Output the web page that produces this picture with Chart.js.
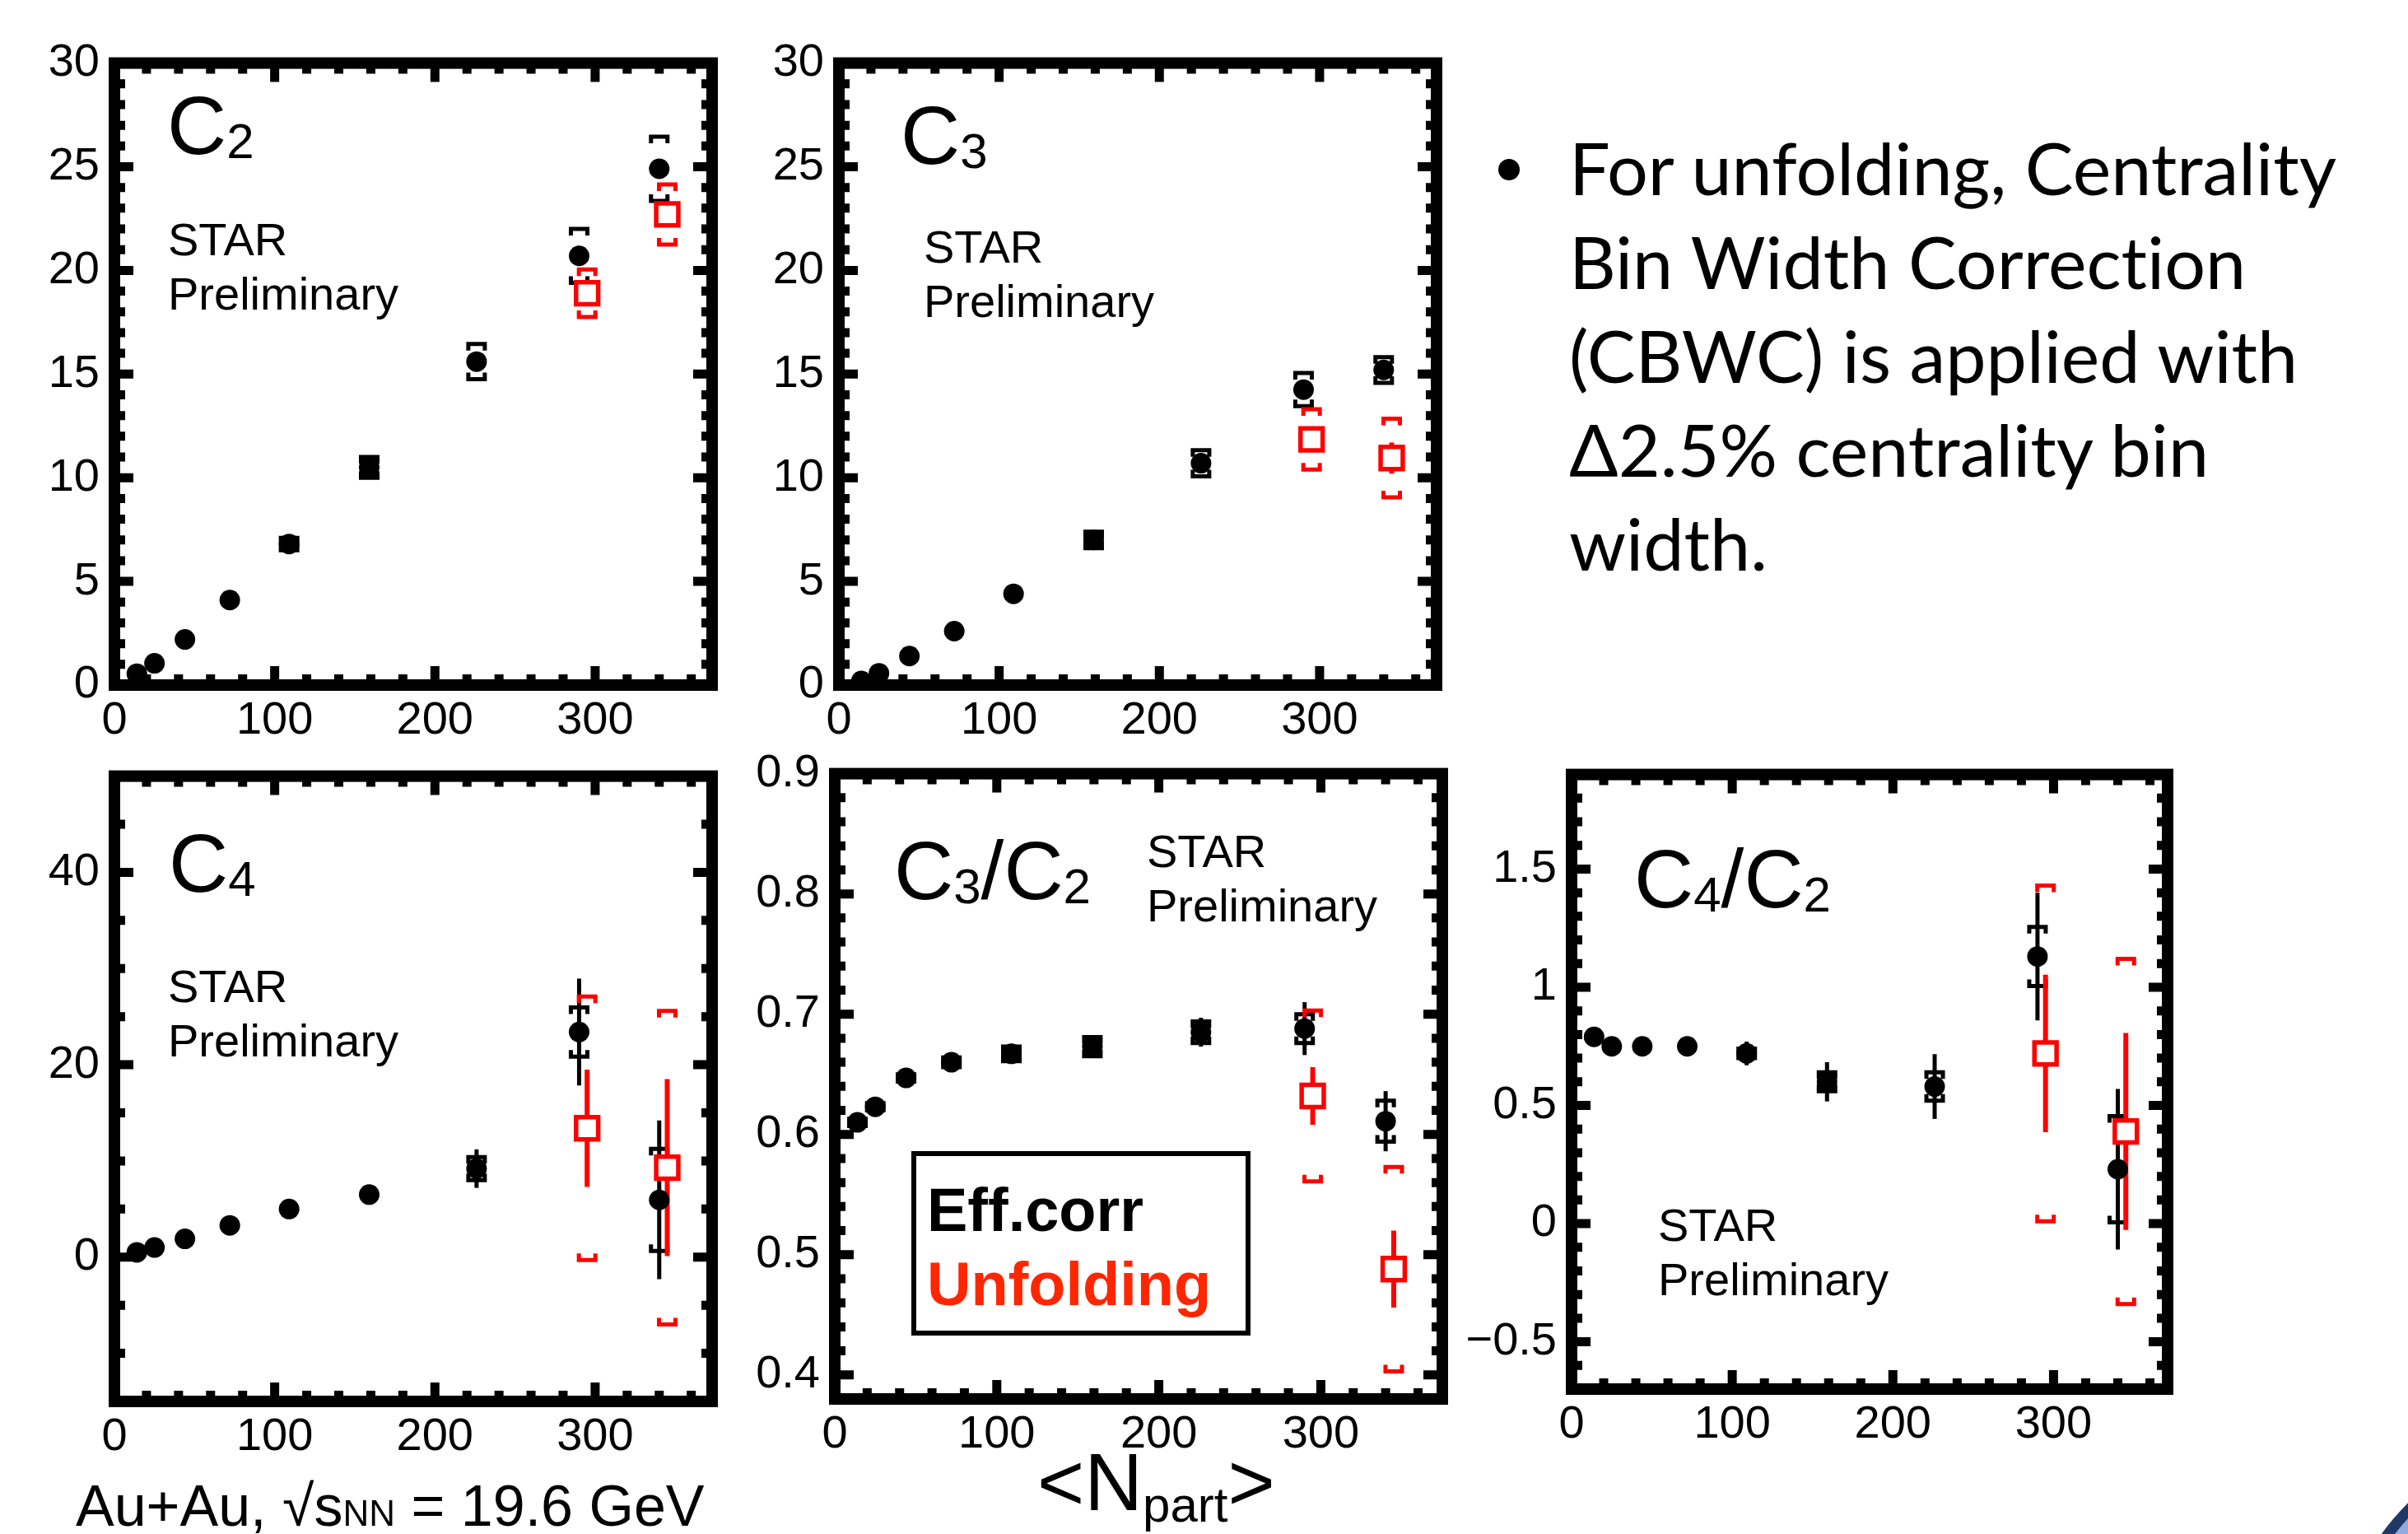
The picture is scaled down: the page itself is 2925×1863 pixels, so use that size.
<!DOCTYPE html>
<html>
<head>
<meta charset="utf-8">
<script src="https://cdn.jsdelivr.net/npm/chart.js@4.4.1/dist/chart.umd.min.js"></script>
<style>
html, body { margin: 0; padding: 0; background: #fff; }
#page { position: relative; width: 2925px; height: 1863px; overflow: hidden; background: #fff;
        font-family: "Liberation Sans", Arial, sans-serif; color: #000; }
canvas { position: absolute; }
.t { position: absolute; white-space: nowrap; line-height: 1; }
.title { font-size: 100px; }
.title .s { font-size: 60px; vertical-align: -5px; }
.star { font-size: 56px; line-height: 66px; }
.legend { position: absolute; left: 1107px; top: 1398px; width: 412px; height: 224px;
          box-sizing: border-box; border: 6px solid #000; }
.leg { font-size: 74px; font-weight: bold; }
.bullet { position: absolute; left: 1906px; top: 146px; font-family: Lato, "Open Sans", sans-serif;
          font-size: 88px; line-height: 114px; white-space: nowrap; font-variant-ligatures: none; }
.dot { position: absolute; left: 1820px; top: 193px; width: 26px; height: 26px; border-radius: 50%; background: #000; }
.corner { position: absolute; left: 2832px; top: 1732px; width: 636px; height: 636px; border-radius: 50%;
          box-sizing: border-box; border: 13px solid #1f3864; background: #8faadc; }
</style>
</head>
<body>
<div id="page">
  <div class="corner"></div>
</div>
<script>
// N_part positions of the two data sets
const npartEff = [14, 25, 44, 72, 109, 159, 226, 290, 340];
const npartUnf = [295, 345];

// C2
const c2Eff     = [0.55, 1.05, 2.2, 4.1, 6.8, 10.5, 15.6, 20.7, 24.9];
const c2EffStat = [0.05, 0.05, 0.08, 0.1, 0.15, 0.2, 0.25, 0.3, 0.4];
const c2EffSys  = [0, 0, 0, 0, 0.3, 0.5, 0.85, 1.3, 1.55];
const c2Unf     = [18.9, 22.7];
const c2UnfStat = [0.35, 0.45];
const c2UnfSys  = [1.15, 1.45];

// C3
const c3Eff     = [0.2, 0.57, 1.4, 2.6, 4.4, 7.0, 10.7, 14.25, 15.2];
const c3EffStat = [0.02, 0.03, 0.05, 0.08, 0.1, 0.15, 0.25, 0.35, 0.4];
const c3EffSys  = [0, 0, 0, 0, 0, 0.4, 0.63, 0.8, 0.62];
const c3Unf     = [11.85, 10.95];
const c3UnfStat = [0.4, 0.75];
const c3UnfSys  = [1.45, 1.9];

// C4
const c4Eff     = [0.5, 1.0, 1.9, 3.3, 5.0, 6.5, 9.2, 23.4, 5.95];
const c4EffStat = [0.2, 0.2, 0.3, 0.4, 0.5, 0.7, 2.0, 5.55, 8.25];
const c4EffSys  = [0, 0, 0, 0, 0, 0, 1.2, 2.55, 5.3];
const c4Unf     = [13.4, 9.3];
const c4UnfStat = [6.1, 9.2];
const c4UnfSys  = [13.7, 16.3];

// C3/C2
const c32Eff     = [0.610, 0.623, 0.647, 0.660, 0.667, 0.673, 0.685, 0.688, 0.611];
const c32EffStat = [0.003, 0.003, 0.004, 0.004, 0.005, 0.006, 0.012, 0.022, 0.025];
const c32EffSys  = [0.003, 0.003, 0.003, 0.004, 0.006, 0.008, 0.009, 0.012, 0.017];
const c32Unf     = [0.632, 0.488];
const c32UnfStat = [0.024, 0.032];
const c32UnfSys  = [0.071, 0.085];

// C4/C2
const c42Eff     = [0.79, 0.75, 0.75, 0.75, 0.72, 0.60, 0.58, 1.13, 0.23];
const c42EffStat = [0.01, 0.01, 0.015, 0.02, 0.05, 0.083, 0.137, 0.27, 0.34];
const c42EffSys  = [0, 0, 0, 0, 0.02, 0.04, 0.06, 0.125, 0.225];
const c42Unf     = [0.72, 0.39];
const c42UnfStat = [0.333, 0.417];
const c42UnfSys  = [0.71, 0.73];

// tick labels
const xTickVals   = [0, 100, 200, 300];
const c2TickVals  = [0, 5, 10, 15, 20, 25, 30];
const c4TickVals  = [0, 20, 40];
const c32TickVals = [0.4, 0.5, 0.6, 0.7, 0.8, 0.9];
const c42TickVals = [-0.5, 0, 0.5, 1, 1.5];

const FONT = '"Liberation Sans", Arial, sans-serif';
const page = document.getElementById('page');

// margins around each frame inside its canvas
const PAD_L = 140, PAD_T = 40, PAD_R = 30, PAD_B = 100;

// statistical bars and systematic brackets
const errorBars = {
    id: 'errorBars',
    beforeDatasetsDraw(chart) {
        const { ctx, scales: { x, y } } = chart;
        ctx.save();
        chart.data.datasets.forEach(ds => {
            ctx.strokeStyle = ds.errColor;
            ds.data.forEach((p, i) => {
                const px = x.getPixelForValue(p.x);
                const s = ds.stat[i];
                if (s > 0) {
                    ctx.lineWidth = ds.statWidth;
                    ctx.beginPath();
                    ctx.moveTo(px, y.getPixelForValue(p.y + s));
                    ctx.lineTo(px, y.getPixelForValue(p.y - s));
                    ctx.stroke();
                }
                const sy = ds.sys[i];
                if (sy > 0) {
                    ctx.lineWidth = 5;
                    const top = y.getPixelForValue(p.y + sy);
                    const bot = y.getPixelForValue(p.y - sy);
                    ctx.beginPath();
                    ctx.moveTo(px - 10, top + 8); ctx.lineTo(px - 10, top); ctx.lineTo(px + 10, top); ctx.lineTo(px + 10, top + 8);
                    ctx.moveTo(px - 10, bot - 8); ctx.lineTo(px - 10, bot); ctx.lineTo(px + 10, bot); ctx.lineTo(px + 10, bot - 8);
                    ctx.stroke();
                }
            });
        });
        ctx.restore();
    }
};

// thick frame with inward ticks on all four sides
const frameTicks = {
    id: 'frameTicks',
    afterDraw(chart, args, o) {
        const { ctx, chartArea: a, scales: { x, y } } = chart;
        ctx.save();
        ctx.strokeStyle = '#000';
        ctx.lineWidth = 11;
        const marks = (min, max, minor, major, fn) => {
            let v = Math.ceil(min / minor - 1e-6) * minor;
            for (; v <= max + 1e-9; v += minor) {
                const r = Math.abs(v / major - Math.round(v / major)) < 1e-6;
                fn(v, r ? 23 : 13);
            }
        };
        ctx.beginPath();
        marks(x.min, x.max, o.xMinor, o.xMajor, (v, len) => {
            const px = x.getPixelForValue(v);
            if (px < a.left + 8 || px > a.right - 8) return;
            ctx.moveTo(px, a.bottom); ctx.lineTo(px, a.bottom - len);
            ctx.moveTo(px, a.top); ctx.lineTo(px, a.top + len);
        });
        marks(y.min, y.max, o.yMinor, o.yMajor, (v, len) => {
            const py = y.getPixelForValue(v);
            if (py < a.top + 8 || py > a.bottom - 8) return;
            ctx.moveTo(a.left, py); ctx.lineTo(a.left + len, py);
            ctx.moveTo(a.right, py); ctx.lineTo(a.right - len, py);
        });
        ctx.stroke();
        ctx.lineWidth = 14;
        ctx.lineJoin = 'miter';
        ctx.strokeRect(a.left, a.top, a.width, a.height);
        ctx.restore();
    }
};

const fmt = v => String(Math.round(v * 100) / 100).replace('-', '\u2212');

function makePanel(box, xMax, yMin, yMax, yTicks, yMinor, yMajor, eff, effStat, effSys, unf, unfStat, unfSys) {
    const w = box.r - box.l, h = box.b - box.t;
    const cv = document.createElement('canvas');
    cv.width = w + PAD_L + PAD_R;
    cv.height = h + PAD_T + PAD_B;
    cv.style.left = (box.l - PAD_L) + 'px';
    cv.style.top = (box.t - PAD_T) + 'px';
    page.appendChild(cv);

    const tickFont = { family: FONT, size: 56 };
    new Chart(cv.getContext('2d'), {
        type: 'scatter',
        data: {
            datasets: [{
                data: npartEff.map((x, i) => ({ x, y: eff[i] })),
                stat: effStat, sys: effSys, errColor: '#000', statWidth: 5,
                pointStyle: 'circle', pointRadius: 12.5,
                pointBackgroundColor: '#000', pointBorderWidth: 0
            }, {
                data: npartUnf.map((x, i) => ({ x, y: unf[i] })),
                stat: unfStat, sys: unfSys, errColor: '#ff0000', statWidth: 6,
                pointStyle: 'rect', pointRadius: 19,
                pointBackgroundColor: '#fff', pointBorderColor: '#ff0000', pointBorderWidth: 5.5
            }]
        },
        options: {
            responsive: false,
            animation: false,
            devicePixelRatio: 1,
            layout: { padding: { left: 0, top: PAD_T, right: PAD_R, bottom: 0 } },
            plugins: {
                legend: { display: false },
                tooltip: { enabled: false },
                frameTicks: { xMinor: 20, xMajor: 100, yMinor, yMajor }
            },
            scales: {
                x: {
                    type: 'linear', min: 0, max: xMax,
                    afterBuildTicks: s => { s.ticks = xTickVals.map(v => ({ value: v })); },
                    afterFit: s => { s.height = PAD_B; },
                    grid: { display: false, drawTicks: false },
                    border: { display: false },
                    ticks: { font: tickFont, color: '#000', padding: 10, maxRotation: 0, autoSkip: false, callback: fmt }
                },
                y: {
                    type: 'linear', min: yMin, max: yMax,
                    afterBuildTicks: s => { s.ticks = yTicks.map(v => ({ value: v })); },
                    afterFit: s => { s.width = PAD_L; },
                    grid: { display: false, drawTicks: false },
                    border: { display: false },
                    ticks: { font: tickFont, color: '#000', padding: 18, autoSkip: false, callback: fmt }
                }
            }
        },
        plugins: [errorBars, frameTicks]
    });
}

makePanel({ l: 139, t: 65, r: 865, b: 832 }, 373, 0, 30, c2TickVals, 1, 5,
    c2Eff, c2EffStat, c2EffSys, c2Unf, c2UnfStat, c2UnfSys);
makePanel({ l: 1019, t: 65, r: 1745, b: 832 }, 373, 0, 30, c2TickVals, 1, 5,
    c3Eff, c3EffStat, c3EffSys, c3Unf, c3UnfStat, c3UnfSys);
makePanel({ l: 139, t: 931, r: 865, b: 1702 }, 373, -15, 50, c4TickVals, 5, 20,
    c4Eff, c4EffStat, c4EffSys, c4Unf, c4UnfStat, c4UnfSys);
makePanel({ l: 1014, t: 928, r: 1752, b: 1699 }, 375, 0.38, 0.9, c32TickVals, 0.02, 0.1,
    c32Eff, c32EffStat, c32EffSys, c32Unf, c32UnfStat, c32UnfSys);
makePanel({ l: 1909, t: 929, r: 2633, b: 1687 }, 371, -0.7, 1.9, c42TickVals, 0.1, 0.5,
    c42Eff, c42EffStat, c42EffSys, c42Unf, c42UnfStat, c42UnfSys);

// text overlays
const texts = [
    ['title', 203, 102, 'C<span class="s">2</span>'],
    ['title', 1094, 114, 'C<span class="s">3</span>'],
    ['title', 205, 998, 'C<span class="s">4</span>'],
    ['title', 1086, 1007, 'C<span class="s">3</span>/C<span class="s">2</span>'],
    ['title', 1985, 1017, 'C<span class="s">4</span>/C<span class="s">2</span>'],
    ['star', 204, 258, 'STAR<br>Preliminary'],
    ['star', 1122, 267, 'STAR<br>Preliminary'],
    ['star', 204, 1165, 'STAR<br>Preliminary'],
    ['star', 1393, 1001, 'STAR<br>Preliminary'],
    ['star', 2014, 1455, 'STAR<br>Preliminary'],
    ['leg', 1126, 1433, 'Eff.corr'],
    ['leg', 1126, 1523, '<span style="color:#ff2600">Unfolding</span>']
];
texts.forEach(([cls, x, y, html]) => {
    const d = document.createElement('div');
    d.className = 't ' + cls;
    d.style.left = x + 'px';
    d.style.top = y + 'px';
    d.innerHTML = html;
    page.appendChild(d);
});

const box = document.createElement('div');
box.className = 'legend';
page.insertBefore(box, page.querySelector('.t.leg'));

const foot = document.createElement('div');
foot.className = 't';
foot.style.cssText = 'left:92px;top:1794px;font-size:70px;';
foot.innerHTML = 'Au+Au, \u221As<span style="font-size:44px">NN</span> = 19.6 GeV';
page.appendChild(foot);

const xlab = document.createElement('div');
xlab.className = 't';
xlab.style.cssText = 'left:1260px;top:1751px;font-size:98px;';
xlab.innerHTML = '&lt;N<span style="font-size:60px;vertical-align:-14px">part</span>&gt;';
page.appendChild(xlab);

const dot = document.createElement('div');
dot.className = 'dot';
page.appendChild(dot);

const bullet = document.createElement('div');
bullet.className = 'bullet';
bullet.innerHTML = 'For unfolding, Centrality<br>Bin Width Correction<br>(CBWC) is applied with<br>\u03942.5% centrality bin<br>width.';
page.appendChild(bullet);
</script>
</body>
</html>
